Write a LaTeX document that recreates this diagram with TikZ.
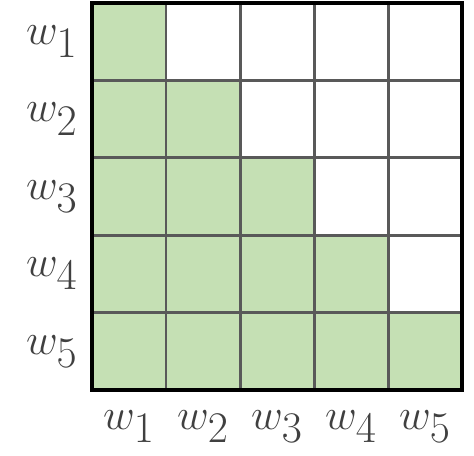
\documentclass[tikz,border=0pt]{standalone}
\usepackage{tikz}
\usetikzlibrary{positioning}
\definecolor{verde}{RGB}{197,224,180}
\definecolor{rejilla}{RGB}{89,89,89}
\definecolor{texto}{RGB}{64,64,64}

\begin{document}
\begin{tikzpicture}
\useasboundingbox (0,0) rectangle (9.48,9.1);
% celdas de la matriz
\foreach \i in {1,...,5}{
  \foreach \j in {1,...,5}{
    \ifnum\j>\i \def\relleno{white}\else\def\relleno{verde}\fi
    \node[draw=rejilla,line width=1.7pt,fill=\relleno,minimum width=1.48cm,minimum height=1.548cm,inner sep=0pt,outer sep=0pt]
    (c\i\j) at ({2.58+1.48*(\j-1)},{8.266-1.548*(\i-1)}) {};
  }
}
\draw[line width=1.9pt] (c11.north west) rectangle (c55.south east);
% etiquetas
\foreach \i in {1,...,5}{
  \node[text=texto,font=\fontsize{36}{38}\selectfont,inner sep=0pt,left=0.28cm of c\i1] (f\i) {$w_{\i}$};
  \node[text=texto,font=\fontsize{36}{38}\selectfont,inner sep=0pt,below=0.4cm of c5\i] (k\i) {$w_{\i}$};
}
\end{tikzpicture}
\end{document}
